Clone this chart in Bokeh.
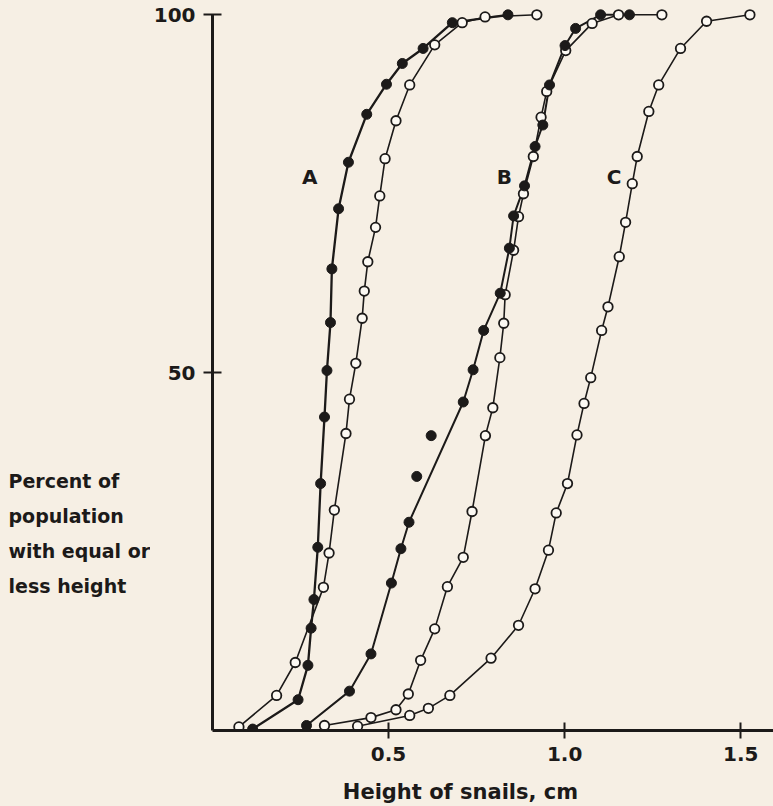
from bokeh.plotting import figure
from bokeh.layouts import row, column
from bokeh.models import Range1d, FixedTicker
from bokeh.core.properties import value
from bokeh.embed import file_html
from bokeh.resources import INLINE

# ---------------- data ----------------
# Curve A, filled circles
a_filled_x = [0.114, 0.243, 0.271, 0.280, 0.288, 0.299, 0.307, 0.318, 0.325, 0.335,
              0.339, 0.358, 0.386, 0.438, 0.494, 0.539, 0.598, 0.681, 0.839]
a_filled_y = [0.2, 4.3, 9.1, 14.3, 18.3, 25.6, 34.5, 43.8, 50.3, 57.0,
              64.5, 72.9, 79.4, 86.1, 90.3, 93.2, 95.3, 98.9, 100.0]
# Curve A, open circles
a_open_x = [0.075, 0.182, 0.235, 0.315, 0.331, 0.346, 0.379, 0.389, 0.407, 0.425,
            0.431, 0.441, 0.463, 0.475, 0.490, 0.521, 0.560, 0.631, 0.709, 0.774, 0.921]
a_open_y = [0.5, 4.9, 9.5, 20.0, 24.8, 30.8, 41.5, 46.3, 51.3, 57.6,
            61.4, 65.5, 70.3, 74.7, 79.9, 85.2, 90.2, 95.8, 98.9, 99.7, 100.0]
# Curve B, filled circles (two points lie off the drawn curve)
b_filled_x = [0.267, 0.389, 0.450, 0.508, 0.535, 0.558, 0.580, 0.621, 0.712, 0.740, 0.770,
              0.817, 0.843, 0.855, 0.886, 0.916, 0.938, 0.957, 1.001, 1.031, 1.102, 1.184]
b_filled_y = [0.7, 5.5, 10.7, 20.6, 25.4, 29.1, 35.5, 41.2, 45.9, 50.4, 55.9,
              61.1, 67.4, 71.9, 76.1, 81.6, 84.6, 90.2, 95.7, 98.1, 100.0, 100.0]
b_filled_on_curve = [True, True, True, True, True, True, False, False, True, True, True,
                     True, True, True, True, True, True, True, True, True, True, True]
# Curve B, open circles
b_open_x = [0.318, 0.450, 0.521, 0.556, 0.591, 0.631, 0.667, 0.712, 0.737, 0.775, 0.796,
            0.816, 0.827, 0.831, 0.855, 0.869, 0.883, 0.911, 0.933, 0.949, 1.003, 1.078,
            1.153, 1.276]
b_open_y = [0.7, 1.8, 2.9, 5.1, 9.8, 14.2, 20.1, 24.2, 30.6, 41.2, 45.1,
            52.1, 56.9, 60.9, 67.1, 71.8, 75.0, 80.2, 85.7, 89.3, 95.0, 98.8,
            100.0, 100.0]
# Curve C, open circles
c_open_x = [0.412, 0.560, 0.613, 0.674, 0.791, 0.869, 0.916, 0.954, 0.976, 1.008, 1.035,
            1.055, 1.074, 1.105, 1.123, 1.155, 1.173, 1.192, 1.206, 1.239, 1.267, 1.329,
            1.403, 1.526]
c_open_y = [0.6, 2.1, 3.1, 4.9, 10.1, 14.7, 19.8, 25.2, 30.4, 34.5, 41.3,
            45.7, 49.3, 55.9, 59.2, 66.2, 71.0, 76.4, 80.2, 86.5, 90.2, 95.3,
            99.1, 100.0]

curve_names = ["A", "B", "C"]
curve_label_x = [0.276, 0.829, 1.140]
curve_label_y = [77.3, 77.3, 77.3]

x_ticks = [0.5, 1.0, 1.5]
x_tick_labels = {0.5: "0.5", 1.0: "1.0", 1.5: "1.5"}
y_ticks = [50, 100]
y_tick_labels = {50: "50", 100: "100"}

x_title = "Height of snails, cm"
y_title_lines = ["Percent of", "population", "with equal or", "less height"]

# ---------------- styling / layout ----------------
BG = "#f6efe4"
INK = "#1c1a19"
FONT = "DejaVu Sans"
TOTAL_W, TOTAL_H = 773, 806
LEFT_W = 150        # side strip holding the y title
BOTTOM_H = 30       # bottom strip holding the x title
MAIN_H = TOTAL_H - BOTTOM_H
FRAME_BOTTOM = 730  # pixel row of y = 0
BORDER_B = MAIN_H - FRAME_BOTTOM


def blank(fig):
    fig.background_fill_color = BG
    fig.border_fill_color = BG
    fig.outline_line_color = None
    fig.grid.visible = False
    return fig


y_rng = Range1d(0, 102)
PX_PER_Y = FRAME_BOTTOM / 102.0

# ---------------- side strip: y title ----------------
side = blank(figure(width=LEFT_W, height=MAIN_H, output_backend="svg",
                    toolbar_location=None,
                    x_range=Range1d(0, LEFT_W), y_range=y_rng,
                    x_axis_type=None, y_axis_type=None,
                    min_border_left=0, min_border_right=0,
                    min_border_top=0, min_border_bottom=BORDER_B))
title_rows_px = [480 + 35 * i for i in range(len(y_title_lines))]
side.text([8] * len(y_title_lines),
          [(FRAME_BOTTOM - r) / PX_PER_Y for r in title_rows_px],
          text=y_title_lines, text_align="left", text_baseline="alphabetic",
          text_font=value(FONT), text_font_style="bold", text_font_size="19px",
          text_color=INK)

# ---------------- main chart ----------------
p = blank(figure(width=TOTAL_W - LEFT_W, height=MAIN_H, output_backend="svg",
                 toolbar_location=None,
                 x_range=Range1d(0, 1.593), y_range=y_rng,
                 min_border_left=209 - LEFT_W, min_border_right=0, min_border_top=0,
                 min_border_bottom=BORDER_B))

for ax in p.xaxis:
    ax.ticker = FixedTicker(ticks=x_ticks)
    ax.major_label_overrides = x_tick_labels
    ax.axis_line_width = 3
    ax.axis_line_color = INK
    ax.major_tick_line_width = 2
    ax.major_tick_line_color = INK
    ax.major_tick_in = 8
    ax.major_tick_out = 8
    ax.minor_tick_line_color = None
    ax.major_label_standoff = 8
    ax.major_label_text_font = FONT
    ax.major_label_text_font_style = "bold"
    ax.major_label_text_font_size = "20px"
    ax.major_label_text_color = INK

for ax in p.yaxis:
    ax.ticker = FixedTicker(ticks=y_ticks)
    ax.major_label_overrides = y_tick_labels
    ax.bounds = (0, 100)
    ax.axis_line_width = 3
    ax.axis_line_color = INK
    ax.major_tick_line_width = 2
    ax.major_tick_line_color = INK
    ax.major_tick_in = 9
    ax.major_tick_out = 9
    ax.minor_tick_line_color = None
    ax.major_label_standoff = 8
    ax.major_label_text_font = FONT
    ax.major_label_text_font_style = "bold"
    ax.major_label_text_font_size = "20px"
    ax.major_label_text_color = INK
    ax.major_label_orientation = "horizontal"

# ---------------- curves ----------------
def curve_line(xs, ys, width, mask=None):
    if mask is not None:
        xs = [x for x, m in zip(xs, mask) if m]
        ys = [y for y, m in zip(ys, mask) if m]
    p.line(xs, ys, line_color=INK, line_width=width)

curve_line(a_filled_x, a_filled_y, 2.3)
curve_line(a_open_x, a_open_y, 1.6)
curve_line(b_filled_x, b_filled_y, 2.0, b_filled_on_curve)
curve_line(b_open_x, b_open_y, 1.6)
curve_line(c_open_x, c_open_y, 1.6)

for xs, ys in [(a_open_x, a_open_y), (b_open_x, b_open_y), (c_open_x, c_open_y)]:
    p.scatter(xs, ys, marker="circle", size=9.5, fill_color="#fcf9f3",
              line_color=INK, line_width=1.8)
for xs, ys in [(a_filled_x, a_filled_y), (b_filled_x, b_filled_y)]:
    p.scatter(xs, ys, marker="circle", size=10, fill_color=INK,
              line_color=INK, line_width=1)

p.text(curve_label_x, curve_label_y, text=curve_names, text_align="center",
       text_baseline="middle", text_font=value(FONT), text_font_style="bold",
       text_font_size="20px", text_color=INK)

# ---------------- bottom strip: x title ----------------
bottom = blank(figure(width=TOTAL_W, height=BOTTOM_H, output_backend="svg",
                      toolbar_location=None,
                      x_range=Range1d(0, TOTAL_W), y_range=Range1d(0, BOTTOM_H),
                      x_axis_type=None, y_axis_type=None,
                      min_border_left=0, min_border_right=0,
                      min_border_top=0, min_border_bottom=0))
bottom.text([460], [BOTTOM_H / 2], text=[x_title], text_align="center",
            text_baseline="middle", text_font=value(FONT),
            text_font_style="bold", text_font_size="21px", text_color=INK)

layout = column(row(side, p, spacing=0), bottom, spacing=0)
layout.styles = {"background-color": BG}
open("out.html", "w").write(file_html(layout, INLINE))
